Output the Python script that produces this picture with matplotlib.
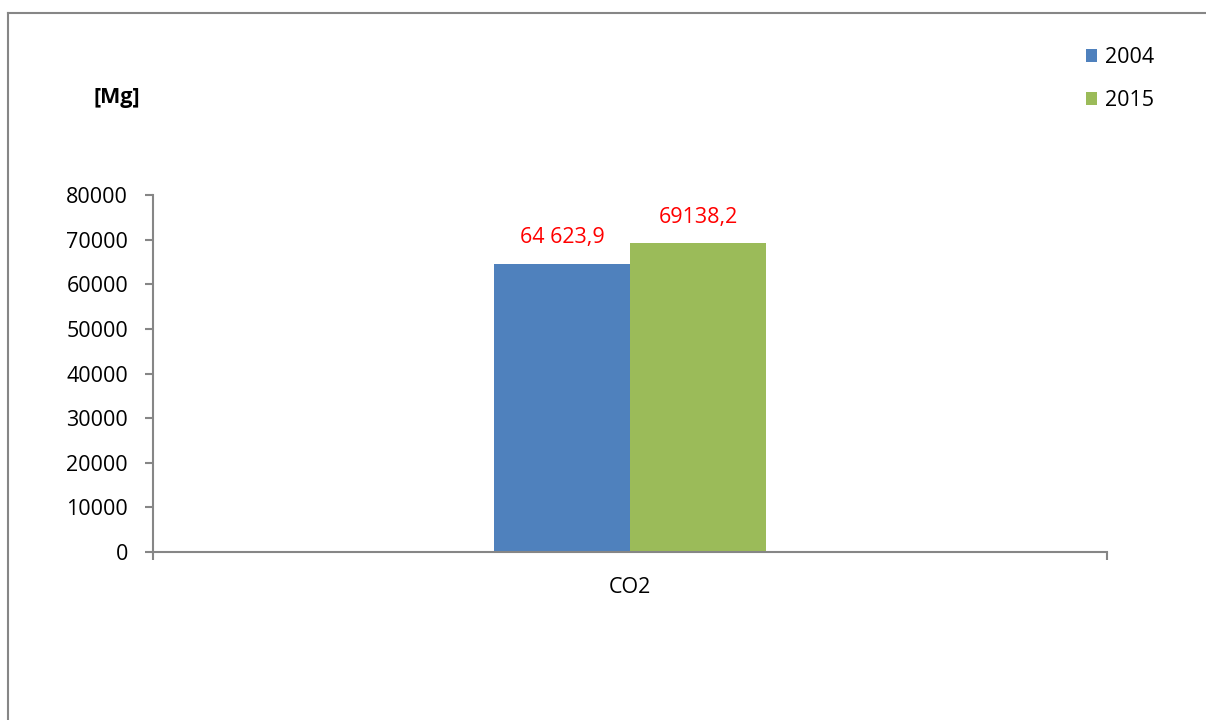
import numpy as np
import matplotlib.pyplot as plt
from matplotlib.patches import Patch
from matplotlib.lines import Line2D

# emissions data
categories = ["CO2"]
years = ["2004", "2015"]
values_2004 = [64623.9]
values_2015 = [69138.2]
value_labels_2004 = ["64 623,9"]
value_labels_2015 = ["69138,2"]
yticks = [0, 10000, 20000, 30000, 40000, 50000, 60000, 70000, 80000]

BLUE = "#4F81BD"
GREEN = "#9BBB59"
GRID_GREY = "#868686"

plt.rcParams["font.family"] = ["Open Sans", "DejaVu Sans"]
FS = 15.5

fig = plt.figure(figsize=(12.06, 7.2), dpi=100)
ax = fig.add_axes([0.1269, 0.2333, 0.7910, 0.4959])

x = np.arange(len(categories))
w = 0.1426
b1 = ax.bar(x - w / 2, values_2004, width=w, color=BLUE, label=years[0])
b2 = ax.bar(x + w / 2, values_2015, width=w, color=GREEN, label=years[1])

for bars, labels in ((b1, value_labels_2004), (b2, value_labels_2015)):
    for rect, txt in zip(bars, labels):
        ax.annotate(txt, (rect.get_x() + rect.get_width() / 2, rect.get_height()),
                    xytext=(0, 19), textcoords="offset points",
                    ha="center", va="center", color="red", fontsize=FS)

ax.set_xlim(-0.5, 0.5)
ax.set_ylim(0, 80000)
ax.set_yticks(yticks)
ax.set_yticklabels([str(v) for v in yticks])
ax.set_xticks(x)
ax.set_xticklabels(categories)
ax.set_xticks([-0.5, 0.5], minor=True)

for s in ("top", "right"):
    ax.spines[s].set_visible(False)
for s in ("left", "bottom"):
    ax.spines[s].set_color(GRID_GREY)
    ax.spines[s].set_linewidth(1.5)

ax.tick_params(axis="y", length=6, width=1.5, color=GRID_GREY, pad=12, labelsize=FS)
ax.tick_params(axis="x", which="major", length=0, pad=18, labelsize=FS)
ax.tick_params(axis="x", which="minor", length=6, width=1.5, color=GRID_GREY)

fig.text(0.097, 0.865, "[Mg]", fontsize=FS, fontweight="bold", ha="center", va="center")

handles = [Patch(facecolor=BLUE, label=years[0]), Patch(facecolor=GREEN, label=years[1])]
fig.legend(handles=handles, loc="upper left", bbox_to_anchor=(0.893, 0.946),
           frameon=False, fontsize=FS, handlelength=0.55, handleheight=0.55,
           handletextpad=0.35, labelspacing=1.02, borderaxespad=0)

# outer frame edges
fig.add_artist(Line2D([0.0066, 0.0066], [0.0, 0.982], color=GRID_GREY, lw=1.5,
                      transform=fig.transFigure))
fig.add_artist(Line2D([0.0066, 1.0], [0.982, 0.982], color=GRID_GREY, lw=1.5,
                      transform=fig.transFigure))

fig.savefig("out.png", dpi=100)
